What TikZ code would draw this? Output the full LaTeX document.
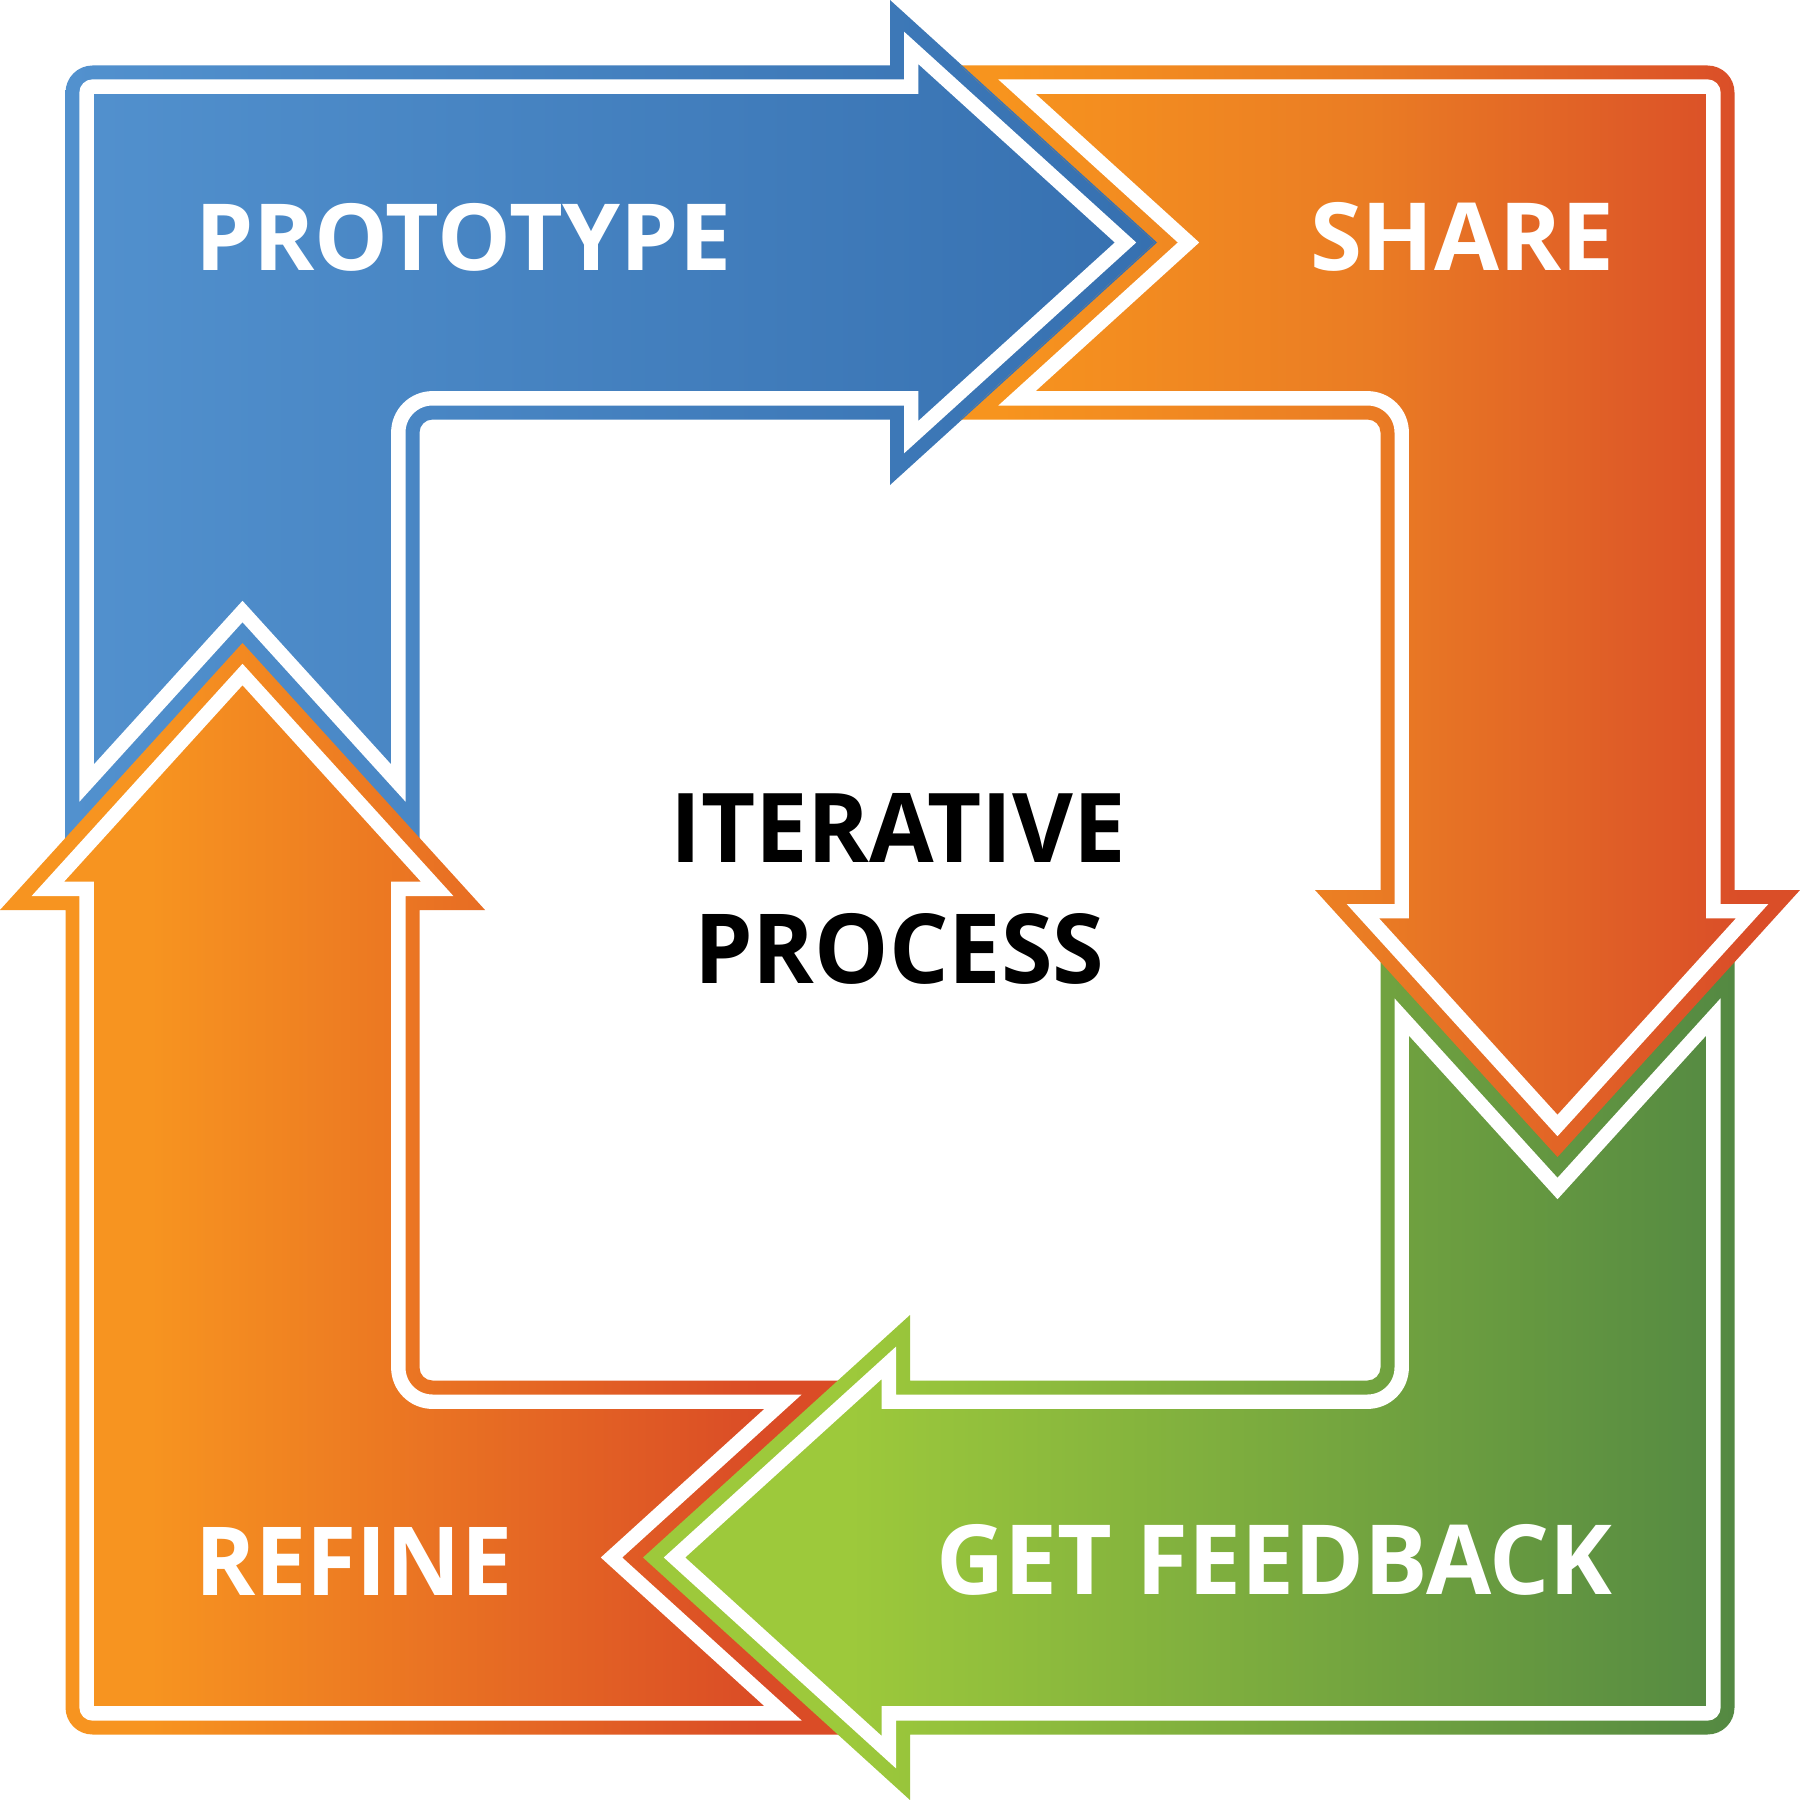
\documentclass[tikz,border=0pt]{standalone}
\usepackage{fontspec}
\usepackage{graphicx}
\newfontfamily\labfont{Open Sans}
\definecolor{blueL}{RGB}{82,145,206}
\definecolor{blueR}{RGB}{54,112,176}
\definecolor{oranL}{RGB}{247,148,30}
\definecolor{oranM}{RGB}{234,124,36}
\definecolor{oranR}{RGB}{218,78,40}
\definecolor{greenL}{RGB}{157,201,59}
\definecolor{greenR}{RGB}{84,137,66}
\definecolor{refL}{RGB}{247,148,32}
\definecolor{refR}{RGB}{218,76,38}
% horizontal shadings; the box from x=-20 to x=1820 maps to 25bp..75bp
\pgfdeclarehorizontalshading{blueshade}{100bp}{color(0bp)=(blueL); color(27.32bp)=(blueL); color(56.98bp)=(blueR); color(100bp)=(blueR)}
\pgfdeclarehorizontalshading{refineshade}{100bp}{color(0bp)=(refL); color(29.62bp)=(refL); color(46.20bp)=(refR); color(100bp)=(refR)}
\pgfdeclarehorizontalshading{greenshade}{100bp}{color(0bp)=(greenL); color(48.64bp)=(greenL); color(72.66bp)=(greenR); color(100bp)=(greenR)}
\pgfdeclarehorizontalshading{shareshade}{100bp}{color(0bp)=(oranL); color(52.72bp)=(oranL); color(62.77bp)=(oranM); color(72.83bp)=(oranR); color(100bp)=(oranR)}
\def\outerpath{(65.5,839.9) -- (65.5,92.5) arc[start angle=180,end angle=270,radius=27] -- (890,65.5) -- (890,0) -- (1157,242.5) -- (890,485) -- (890,419.5) -- (432.5,419.5) arc[start angle=270,end angle=180,radius=13] -- (419.5,839.9) -- (242.5,645) -- cycle}
\def\innerpath{(86.7,783.0) -- (86.7,92.5) arc[start angle=180,end angle=270,radius=5.8] -- (911.2,86.7) -- (911.2,47.9) -- (1125.5,242.5) -- (911.2,437.1) -- (911.2,398.3) -- (432.5,398.3) arc[start angle=270,end angle=180,radius=34.2] -- (398.3,783.0) -- (242.5,611.5) -- cycle}
% #1 rotation, #2 shading name
\newcommand\drawarrowpiece[2]{%
  \begin{scope}
    \path[clip, rotate around={#1:(900,900)}] \outerpath;
    \shade[shading=#2] (-20,-20) rectangle (1820,1820);
  \end{scope}
  \draw[whiteline, rotate around={#1:(900,900)}] \innerpath;
}
\begin{document}
\begin{tikzpicture}[x=0.01cm, y=-0.01cm,
  whiteline/.style={draw=white, line width=0.144cm, line join=miter},
  lab/.style={anchor=south west, inner sep=0pt, outer sep=0pt, text=white},
  centerlab/.style={anchor=south west, inner sep=0pt, outer sep=0pt, text=black}]
\useasboundingbox (0,0) rectangle (1800,1800);
\fill[white] (0,0) rectangle (1800,1800);
% arrows: each head is drawn over the notch of the next one
\drawarrowpiece{0}{blueshade}
\drawarrowpiece{90}{refineshade}
\drawarrowpiece{180}{greenshade}
\drawarrowpiece{-90}{shareshade}
% blue head again over the notch of SHARE (only the thin overlap strip)
\begin{scope}
  \path[clip, rotate around={-90:(900,900)}] \outerpath;
  \path[clip] \outerpath;
  \shade[shading=blueshade] (-20,-20) rectangle (1820,1820);
\end{scope}
% labels
\node[lab] (tproto) at (195,271) {\resizebox*{5.36cm}{0.68cm}{\labfont\bfseries PROTOTYPE}};
\node[lab] (tshare) at (1310,271) {\resizebox*{3.04cm}{0.69cm}{\labfont\bfseries SHARE}};
\node[lab] (trefine) at (195,1595) {\resizebox*{3.17cm}{0.68cm}{\labfont\bfseries REFINE}};
\node[lab] (tfeed) at (936,1595) {\resizebox*{6.76cm}{0.71cm}{\labfont\bfseries GET FEEDBACK}};
\node[centerlab] (titer) at (670,862) {\resizebox*{4.56cm}{0.69cm}{\labfont\bfseries ITERATIVE}};
\node[centerlab] (tproc) at (694,984) {\resizebox*{4.10cm}{0.71cm}{\labfont\bfseries PROCESS}};
\end{tikzpicture}
\end{document}
